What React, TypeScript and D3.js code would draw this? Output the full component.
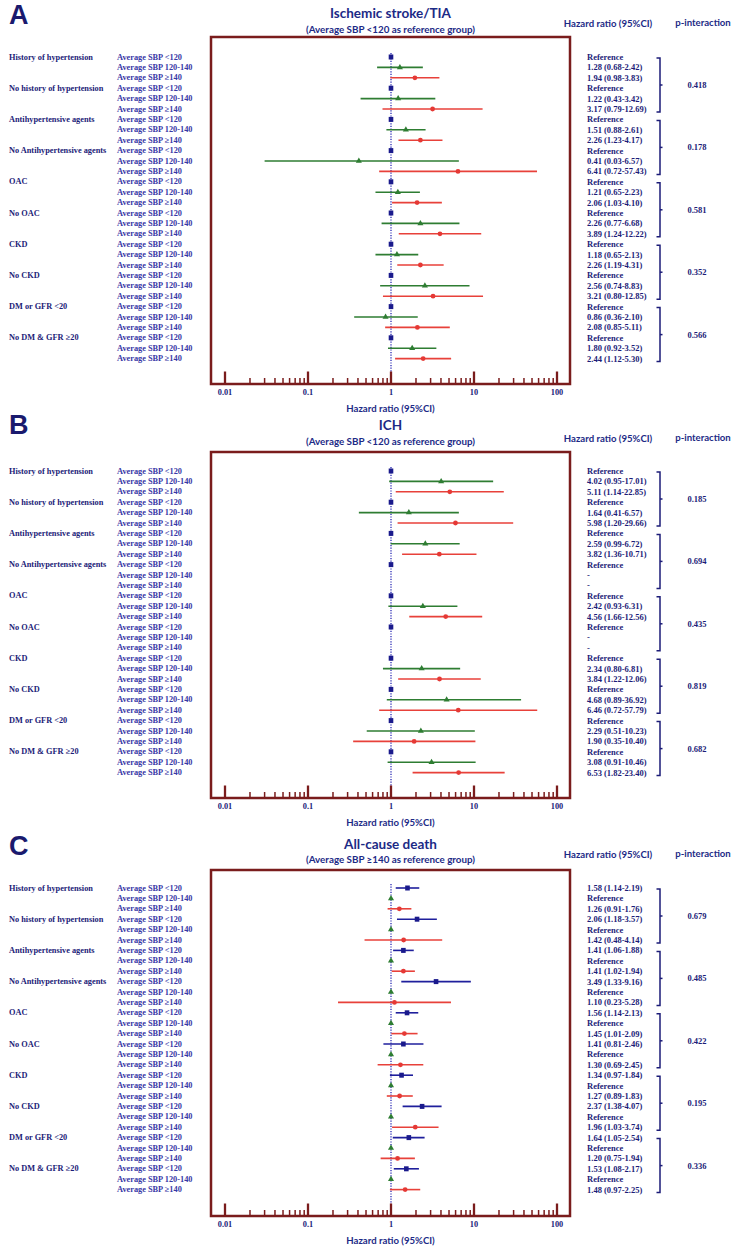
import React from 'react';
import * as d3 from 'd3';

const subgroups = [
  'History of hypertension',
  'No history of hypertension',
  'Antihypertensive agents',
  'No Antihypertensive agents',
  'OAC',
  'No OAC',
  'CKD',
  'No CKD',
  'DM or GFR <20',
  'No DM & GFR \u226520',
];
const sbpLevels = ['Average SBP <120', 'Average SBP 120-140', 'Average SBP \u2265140'];

// Panel A: Ischemic stroke/TIA (ref <120): [HR, lower, upper]
const strokeMid = [
  [1.28, 0.68, 2.42], [1.22, 0.43, 3.42], [1.51, 0.88, 2.61], [0.41, 0.03, 6.57], [1.21, 0.65, 2.23],
  [2.26, 0.77, 6.68], [1.18, 0.65, 2.13], [2.56, 0.74, 8.83], [0.86, 0.36, 2.1], [1.8, 0.92, 3.52],
];
const strokeHigh = [
  [1.94, 0.98, 3.83], [3.17, 0.79, 12.69], [2.26, 1.23, 4.17], [6.41, 0.72, 57.43], [2.06, 1.03, 4.1],
  [3.89, 1.24, 12.22], [2.26, 1.19, 4.31], [3.21, 0.8, 12.85], [2.08, 0.85, 5.11], [2.44, 1.12, 5.3],
];
const strokeP = ['0.418', '0.178', '0.581', '0.352', '0.566'];

// Panel B: ICH (ref <120)
const ichMid = [
  [4.02, 0.95, 17.01], [1.64, 0.41, 6.57], [2.59, 0.99, 6.72], null, [2.42, 0.93, 6.31],
  null, [2.34, 0.8, 6.81], [4.68, 0.89, 36.92], [2.29, 0.51, 10.23], [3.08, 0.91, 10.46],
];
const ichHigh = [
  [5.11, 1.14, 22.85], [5.98, 1.2, 29.66], [3.82, 1.36, 10.71], null, [4.56, 1.66, 12.56],
  null, [3.84, 1.22, 12.06], [6.46, 0.72, 57.79], [1.9, 0.35, 10.4], [6.53, 1.82, 23.4],
];
const ichP = ['0.185', '0.694', '0.435', '0.819', '0.682'];

// Panel C: All-cause death (ref 120-140)
const deathLow = [
  [1.58, 1.14, 2.19], [2.06, 1.18, 3.57], [1.41, 1.06, 1.88], [3.49, 1.33, 9.16], [1.56, 1.14, 2.13],
  [1.41, 0.81, 2.46], [1.34, 0.97, 1.84], [2.37, 1.38, 4.07], [1.64, 1.05, 2.54], [1.53, 1.08, 2.17],
];
const deathHigh = [
  [1.26, 0.91, 1.76], [1.42, 0.48, 4.14], [1.41, 1.02, 1.94], [1.1, 0.23, 5.28], [1.45, 1.01, 2.09],
  [1.3, 0.69, 2.45], [1.27, 0.89, 1.83], [1.96, 1.03, 3.74], [1.2, 0.75, 1.94], [1.48, 0.97, 2.25],
];
const deathP = ['0.679', '0.485', '0.422', '0.195', '0.336'];

const majorTicks = [0.01, 0.1, 1, 10, 100];
const tickLabels = ['0.01', '0.1', '1', '10', '100'];
const minorTicks = [0.01, 0.1, 1, 10].flatMap((d) => [2, 3, 4, 5, 6, 7, 8, 9].map((k) => d * k));

type Row = number[] | null;
type Panel = {
  letter: string;
  title: string;
  subtitle: string;
  refIndex: number;
  series: (Row[] | null)[];
  p: string[];
  letterY: number;
  titleY: number;
  subY: number;
  headY: number;
  boxTop: number;
  boxBottom: number;
  firstRow: number;
};

const panels: Panel[] = [
  {
    letter: 'A', title: 'Ischemic stroke/TIA', subtitle: '(Average SBP <120 as reference group)',
    refIndex: 0, series: [null, strokeMid, strokeHigh], p: strokeP,
    letterY: 15, titleY: 13, subY: 29, headY: 23, boxTop: 37, boxBottom: 384, firstRow: 57,
  },
  {
    letter: 'B', title: 'ICH', subtitle: '(Average SBP <120 as reference group)',
    refIndex: 0, series: [null, ichMid, ichHigh], p: ichP,
    letterY: 425, titleY: 425, subY: 441, headY: 438, boxTop: 452, boxBottom: 798, firstRow: 471,
  },
  {
    letter: 'C', title: 'All-cause death', subtitle: '(Average SBP \u2265140 as reference group)',
    refIndex: 1, series: [deathLow, null, deathHigh], p: deathP,
    letterY: 846, titleY: 844, subY: 859, headY: 854, boxTop: 870, boxBottom: 1216, firstRow: 888,
  },
];

const NAVY = '#1c1c78';
const ROWTXT = '#3838a6';
const BOX = '#7a1c1c';
const lineColors = ['#1f1f9c', '#2e7d32', '#e8413a'];
const markColors = ['#1a1a8c', '#2e7d32', '#e53935'];
const SERIF = '"Liberation Serif", "Times New Roman", serif';
const SANS = 'Lato, "Open Sans", sans-serif';

const x = d3.scaleLog().domain([0.01, 100]).range([225, 557]);
const fmt = d3.format('.2f');

function Marker({ kind, cx, cy }: { kind: number; cx: number; cy: number }) {
  if (kind === 0) {
    return <rect x={cx - 2.3} y={cy - 2.5} width={4.6} height={5} fill={markColors[0]} />;
  }
  if (kind === 1) {
    const tri = d3.symbol().type(d3.symbolTriangle).size(16)();
    return <path d={tri || ''} transform={`translate(${cx},${cy})`} fill={markColors[1]} />;
  }
  return <circle cx={cx} cy={cy} r={2.4} fill={markColors[2]} />;
}

function PanelView({ pn }: { pn: Panel }) {
  const nRows = subgroups.length * 3;
  const y = d3.scaleLinear().domain([0, nRows - 1]).range([pn.firstRow, pn.firstRow + (nRows - 1) * 10.4]);
  const boxLeft = x(0.01) - 14;
  const boxRight = x(100) + 13;
  const midX = (boxLeft + boxRight) / 2;

  const rows: React.ReactNode[] = [];
  subgroups.forEach((g, i) => {
    rows.push(
      <text key={`g${i}`} x={9} y={y(i * 3)} dominantBaseline="central" fontFamily={SERIF}
        fontWeight="bold" fontSize={8.3} fill={NAVY}>{g}</text>
    );
    sbpLevels.forEach((lvl, j) => {
      const r = i * 3 + j;
      const cy = y(r);
      rows.push(
        <text key={`l${r}`} x={117} y={cy} dominantBaseline="central" fontFamily={SERIF}
          fontWeight="bold" fontSize={8.3} fill={ROWTXT}>{lvl}</text>
      );
      let label = '';
      if (j === pn.refIndex) {
        label = 'Reference';
        rows.push(<Marker key={`m${r}`} kind={j} cx={x(1)} cy={cy} />);
      } else {
        const d = (pn.series[j] as Row[])[i];
        if (!d) {
          label = '-';
        } else {
          label = `${fmt(d[0])} (${fmt(d[1])}-${fmt(d[2])})`;
          rows.push(
            <line key={`c${r}`} x1={x(d[1])} x2={x(d[2])} y1={cy} y2={cy}
              stroke={lineColors[j]} strokeWidth={1.6} />
          );
          rows.push(<Marker key={`m${r}`} kind={j} cx={x(d[0])} cy={cy} />);
        }
      }
      rows.push(
        <text key={`h${r}`} x={587} y={cy} dominantBaseline="central" fontFamily={SERIF}
          fontWeight="bold" fontSize={8.5} fill={NAVY}>{label}</text>
      );
    });
  });

  const brackets = pn.p.map((pv, k) => {
    const top = y(k * 6) + 1;
    const bot = y(k * 6 + 5) + 3;
    const mid = (top + bot) / 2;
    return (
      <g key={`b${k}`}>
        <path d={`M656.5,${top}H660V${bot}H656.5`} fill="none" stroke={NAVY} strokeWidth={1.5} />
        <path d={`M660,${mid}h2.5`} fill="none" stroke={NAVY} strokeWidth={1.5} />
        <text x={697} y={mid} textAnchor="middle" dominantBaseline="central" fontFamily={SERIF}
          fontWeight="bold" fontSize={8.5} fill={NAVY}>{pv}</text>
      </g>
    );
  });

  return (
    <g>
      <text x={9} y={pn.letterY} dominantBaseline="central" fontFamily='"Liberation Sans", Arial, sans-serif'
        fontWeight="bold" fontSize={27} fill="#1a1a6e">{pn.letter}</text>
      <text x={midX} y={pn.titleY} textAnchor="middle" dominantBaseline="central" fontFamily={SANS}
        fontWeight="bold" fontSize={13.5} fill="#1c2a86">{pn.title}</text>
      <text x={midX} y={pn.subY} textAnchor="middle" dominantBaseline="central" fontFamily={SANS}
        fontWeight="bold" fontSize={9.8} fill="#1c2a86">{pn.subtitle}</text>
      <text x={608} y={pn.headY} textAnchor="middle" dominantBaseline="central" fontFamily={SANS}
        fontWeight="bold" fontSize={9.6} fill="#1c2a86">Hazard ratio (95%CI)</text>
      <text x={703} y={pn.headY - 1} textAnchor="middle" dominantBaseline="central" fontFamily={SANS}
        fontWeight="bold" fontSize={9.6} fill="#1c2a86">p-interaction</text>

      {/* reference line */}
      <line x1={x(1)} x2={x(1)} y1={pn.firstRow - 4} y2={pn.boxBottom} stroke="#2b2bb5"
        strokeWidth={1.3} strokeDasharray="1.2,1.4" />

      {/* box */}
      <rect x={boxLeft} y={pn.boxTop} width={boxRight - boxLeft} height={pn.boxBottom - pn.boxTop}
        fill="none" stroke={BOX} strokeWidth={2.5} />
      {minorTicks.map((t) => (
        <line key={`mi${t}`} x1={x(t)} x2={x(t)} y1={pn.boxBottom} y2={pn.boxBottom - 6}
          stroke={BOX} strokeWidth={1.5} />
      ))}
      {majorTicks.map((t, k) => (
        <g key={`ma${t}`}>
          <line x1={x(t)} x2={x(t)} y1={pn.boxBottom} y2={pn.boxBottom - 12.5} stroke={BOX} strokeWidth={2.3} />
          <text x={x(t)} y={pn.boxBottom + 8} textAnchor="middle" dominantBaseline="central"
            fontFamily={SERIF} fontWeight="bold" fontSize={8.3} fill={NAVY}>{tickLabels[k]}</text>
        </g>
      ))}
      <text x={midX} y={pn.boxBottom + 24} textAnchor="middle" dominantBaseline="central" fontFamily={SANS}
        fontWeight="bold" fontSize={9.6} fill="#1c2a86">Hazard ratio (95%CI)</text>

      {rows}
      {brackets}
    </g>
  );
}

export default function App() {
  return (
    <svg width={740} height={1251} style={{ position: 'absolute', left: 0, top: 0, background: '#fff' }}>
      <rect width={740} height={1251} fill="#fff" />
      {panels.map((pn) => (
        <PanelView key={pn.letter} pn={pn} />
      ))}
    </svg>
  );
}
